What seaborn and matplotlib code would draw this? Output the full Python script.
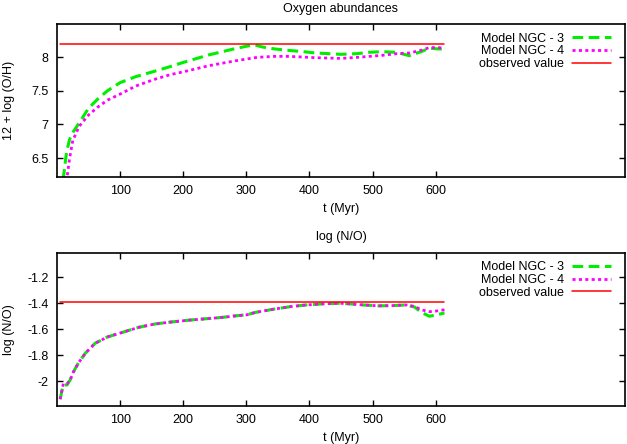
import numpy as np
import pandas as pd
import matplotlib
matplotlib.use('Agg')
import matplotlib.pyplot as plt
import seaborn as sns

# top panel: 12 + log(O/H)
t_oh = [5, 10, 15, 20, 25, 35, 50, 65, 80, 100, 125, 155, 180, 200, 240, 280, 300, 313,
        325, 345, 365, 390, 410, 430, 450, 475, 495, 515, 538, 558, 577, 590, 605, 614]
oh_ngc3 = [5.7, 6.2, 6.58, 6.78, 6.88, 7.02, 7.24, 7.38, 7.50, 7.62, 7.71, 7.79, 7.86, 7.92,
           8.03, 8.12, 8.16, 8.18, 8.15, 8.12, 8.10, 8.08, 8.06, 8.05, 8.04, 8.05, 8.07, 8.08,
           8.07, 8.02, 8.08, 8.13, 8.12, 8.12]
oh_ngc4 = [5.4, 5.8, 6.15, 6.5, 6.76, 6.97, 7.14, 7.26, 7.36, 7.45, 7.57, 7.67, 7.74, 7.78,
           7.87, 7.94, 7.97, 7.99, 8.00, 8.01, 8.01, 8.00, 7.99, 7.985, 7.98, 7.995, 8.01, 8.025,
           8.05, 8.06, 8.10, 8.14, 8.14, 8.13]
oh_obs = 8.2

# bottom panel: log(N/O)
t_no = [5, 8, 10, 16, 21, 26, 34, 45, 60, 80, 100, 130, 155, 180, 210, 235, 260, 287, 300,
        315, 343, 370, 395, 420, 448, 465, 485, 510, 532, 553, 567, 577, 590, 601, 614]
no_ngc3 = [-2.14, -2.07, -2.03, -2.03, -1.99, -1.93, -1.86, -1.785, -1.71, -1.66, -1.63, -1.585,
           -1.56, -1.545, -1.53, -1.52, -1.51, -1.495, -1.49, -1.47, -1.446, -1.426, -1.413,
           -1.405, -1.40, -1.405, -1.413, -1.42, -1.418, -1.413, -1.43, -1.47, -1.50, -1.49, -1.475]
no_ngc4 = [-2.14, -2.07, -2.02, -2.02, -1.99, -1.93, -1.86, -1.785, -1.71, -1.66, -1.63, -1.585,
           -1.56, -1.545, -1.53, -1.52, -1.51, -1.495, -1.49, -1.47, -1.446, -1.426, -1.413,
           -1.405, -1.40, -1.405, -1.413, -1.42, -1.418, -1.413, -1.425, -1.45, -1.465, -1.46, -1.45]
no_obs = -1.39

labels = ['Model NGC - 3', 'Model NGC - 4', 'observed value']

sns.set_style('ticks', {'axes.edgecolor': 'black', 'text.color': 'black',
                        'xtick.color': 'black', 'ytick.color': 'black',
                        'axes.labelcolor': 'black'})
plt.rcParams['font.family'] = ['Liberation Sans', 'DejaVu Sans']
plt.rcParams['font.size'] = 9

fig = plt.figure(figsize=(6.27, 4.44), dpi=100)
ax1 = fig.add_axes([0.0909, 0.6014, 0.9059, 0.3445])
ax2 = fig.add_axes([0.0909, 0.0863, 0.9059, 0.3446])


def panel(ax, t, m3, m4, obs, title, ylabel, ylim, yticks, yticklabels):
    df = pd.DataFrame({'t': t, 'm3': m3, 'm4': m4})
    sns.lineplot(data=df, x='t', y='m3', ax=ax, color='#00ee00', lw=2.2,
                 linestyle=(0, (3.5, 1.8)), label=labels[0])
    sns.lineplot(data=df, x='t', y='m4', ax=ax, color='#ff00ff', lw=2.0,
                 linestyle=(0, (1.1, 1.2)), label=labels[1])
    sns.lineplot(x=[t[0], t[-1]], y=[obs, obs], ax=ax, color='red', lw=1.1, label=labels[2])
    ax.set_xlim(0, 900)
    ax.set_ylim(*ylim)
    ax.set_xticks([100, 200, 300, 400, 500, 600])
    ax.set_yticks(yticks)
    ax.set_yticklabels(yticklabels)
    ax.set_title(title, fontsize=9, pad=9)
    ax.set_xlabel('t (Myr)', labelpad=4)
    ax.set_ylabel(ylabel)
    ax.yaxis.set_label_coords(-0.074, 0.5)
    ax.tick_params(direction='in', top=True, right=True, length=4, width=1.0, pad=6)
    for s in ax.spines.values():
        s.set_linewidth(1.2)
    ax.legend(loc='upper right', bbox_to_anchor=(0.99, 1.0), frameon=False, markerfirst=False,
              handlelength=3.1, handletextpad=0.6, labelspacing=0.05, borderaxespad=0.3)


panel(ax1, t_oh, oh_ngc3, oh_ngc4, oh_obs, 'Oxygen abundances', '12 + log (O/H)',
      (6.22, 8.49), [6.5, 7, 7.5, 8], ['6.5', '7', '7.5', '8'])
panel(ax2, t_no, no_ngc3, no_ngc4, no_obs, 'log (N/O)', 'log (N/O)',
      (-2.19, -1.01), [-2, -1.8, -1.6, -1.4, -1.2], ['-2', '-1.8', '-1.6', '-1.4', '-1.2'])

fig.savefig('out.png', dpi=100)
